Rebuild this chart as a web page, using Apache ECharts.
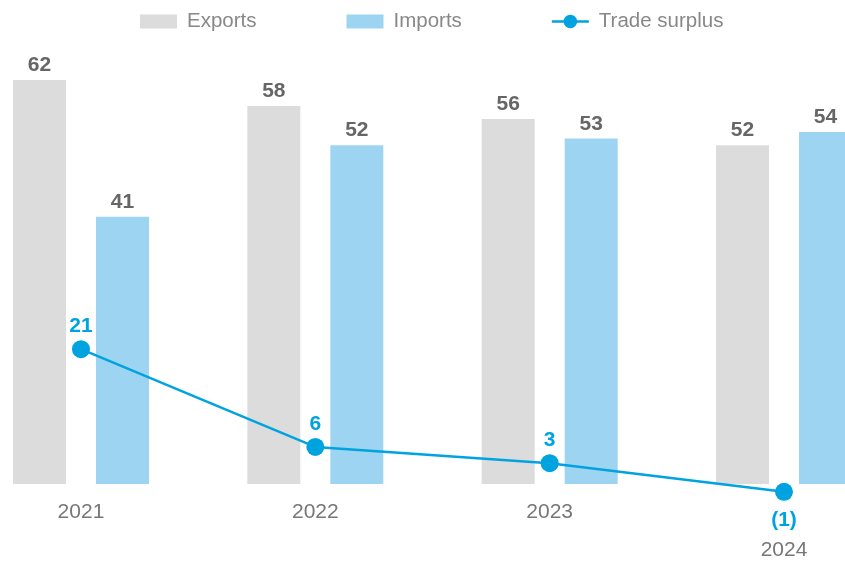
<!DOCTYPE html>
<html><head><meta charset="utf-8">
<script src="https://cdn.jsdelivr.net/npm/echarts@6/dist/echarts.min.js"></script>
<style>html,body{margin:0;padding:0;background:#fff}#c{width:845px;height:563px}</style>
</head><body><div id="c"></div>
<script>
const categories = ['2021', '2022', '2023', '2024'];
const exportsData = [62, 58, 56, 52];
const importsData = [41, 52, 53, 54];
const surplusData = [20.7, 5.7, 3.2, -1.2];
const surplusLabels = ['21', '6', '3', '(1)'];

const chart = echarts.init(document.getElementById('c'));
const FONT = '"Liberation Sans", Arial, sans-serif';
const barLabel = { show: true, position: 'top', distance: 4, fontSize: 21, fontWeight: 'bold', color: '#666', fontFamily: FONT };
chart.setOption({
  animation: false,
  textStyle: { fontFamily: FONT },
  legend: {
    top: 6, left: 135, itemGap: 90,
    itemWidth: 37, itemHeight: 14,
    textStyle: { fontSize: 20.5, color: '#888', fontFamily: FONT, padding: [0, 0, 0, 5] },
    data: [
      { name: 'Exports', icon: 'rect' },
      { name: 'Imports', icon: 'rect' },
      { name: 'Trade surplus', icon: 'path://M0,5.8H38V8.2H0Z M19,0A7,7 0 1 1 19,14A7,7 0 1 1 19,0Z' }
    ]
  },
  grid: { left: -36.2, right: -56.2, top: 53.9, bottom: 52.9, containLabel: false, outerBoundsMode: 'none' },
  xAxis: {
    type: 'category', data: categories,
    axisLine: { show: false }, axisTick: { show: false },
    axisLabel: {
      margin: -8, fontSize: 21, color: '#777', fontFamily: FONT, hideOverlap: false,
      formatter: v => v === '2024' ? '{b|' + v + '}' : v,
      rich: { b: { fontSize: 21, color: '#777', padding: [38, 0, 0, 0], fontFamily: FONT } }
    }
  },
  yAxis: { type: 'value', min: -4, max: 66, show: false, splitLine: { show: false } },
  series: [
    { name: 'Exports', type: 'bar', data: exportsData, barWidth: 53, barGap: '56.6%',
      itemStyle: { color: '#dcdcdc' }, label: barLabel },
    { name: 'Imports', type: 'bar', data: importsData, barWidth: 53,
      itemStyle: { color: '#9dd4f2' }, label: barLabel },
    {
      name: 'Trade surplus', type: 'line', clip: false,
      data: surplusData.map(v => v < 0 ? { value: v, label: { position: 'bottom', distance: 9 } } : v),
      symbol: 'circle', symbolSize: 18, z: 5,
      lineStyle: { color: '#00a3e0', width: 2.5 },
      itemStyle: { color: '#00a3e0' },
      label: {
        show: true, fontSize: 21, fontWeight: 'bold', color: '#00a3e0', fontFamily: FONT,
        position: 'top', distance: 3,
        formatter: p => surplusLabels[p.dataIndex]
      }
    }
  ]
});
</script></body></html>
